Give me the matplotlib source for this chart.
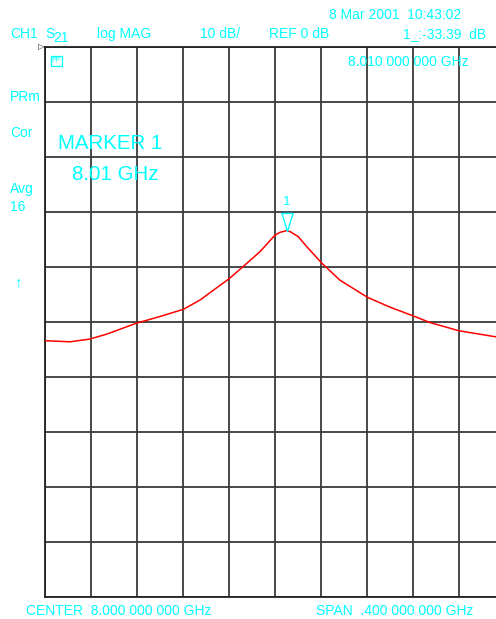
import matplotlib
matplotlib.use("Agg")
import matplotlib.pyplot as plt
import numpy as np
from matplotlib.path import Path

# trace: frequency (GHz) vs S21 (dB)
freq_ghz = [7.800, 7.8217, 7.8391, 7.8537, 7.8797, 7.9000, 7.9203, 7.9348,
            7.9603, 7.9724, 7.9870, 8.0000, 8.0043, 8.0100, 8.0135, 8.0203,
            8.0276, 8.0407, 8.0565, 8.0803, 8.1000, 8.1203, 8.1348, 8.1600,
            8.1922, 8.2000]
s21_db = [-53.4, -53.6, -53.1, -52.2, -50.2, -49.0, -47.7, -46.0,
          -42.1, -39.9, -37.2, -34.2, -33.7, -33.39, -33.6, -34.5,
          -36.3, -39.3, -42.4, -45.5, -47.3, -48.9, -50.1, -51.6,
          -52.7, -52.9]

center_ghz = 8.0
span_ghz = 0.4
ref_db = 0
db_per_div = 10
marker_freq = 8.01
marker_db = -33.39

W, H = 496, 619
CYAN = "#00FFFF"
plt.rcParams["font.family"] = ["Liberation Sans", "DejaVu Sans"]

fig = plt.figure(figsize=(W / 100, H / 100), dpi=100)
fig.patch.set_facecolor("white")

# screen grid runs from x=45 to 505 px (cut off at the right), y=47 to 597 px
ax = fig.add_axes([45 / W, (H - 597) / H, 460 / W, 550 / H])
ax.set_xlim(center_ghz - span_ghz / 2, center_ghz + span_ghz / 2)
ax.set_ylim(ref_db - 10 * db_per_div, ref_db)
ax.set_xticks(np.linspace(center_ghz - span_ghz / 2, center_ghz + span_ghz / 2, 11))
ax.set_yticks(np.arange(ref_db - 10 * db_per_div, ref_db + 1, db_per_div))
ax.tick_params(length=0, labelbottom=False, labelleft=False)
ax.grid(True, color="#3a3a3a", linewidth=1.3)
for s in ax.spines.values():
    s.set_color("#222222")
    s.set_linewidth(1.3)

ax.plot(freq_ghz, s21_db, color="#FF0000", linewidth=1.1, zorder=3)

# marker triangle, tip on the trace
tri = Path([(-0.49, 1.6), (0.49, 1.6), (0, 0), (-0.49, 1.6)],
           [Path.MOVETO, Path.LINETO, Path.LINETO, Path.CLOSEPOLY])
ax.plot([marker_freq], [marker_db], marker=tri, markersize=26,
        markerfacecolor="none", markeredgecolor=CYAN, markeredgewidth=1.0,
        zorder=4, clip_on=False)
ax.annotate("1", (marker_freq, marker_db), xytext=(0, 16),
            textcoords="offset points", ha="center", va="bottom",
            color=CYAN, fontsize=9.5)


def label(x, y, s, size=10, **kw):
    fig.text(x / W, 1 - y / H, s, color=CYAN, fontsize=size,
             va="baseline", ha="left", **kw)


label(329, 19, "8 Mar 2001  10:43:02")
label(10, 38, "CH1")
label(45, 38, "S")
label(53, 42, "21")
label(97, 38, "log MAG")
label(200, 38, "10 dB/")
label(269, 38, "REF 0 dB")
label(403, 38, "1_:-33.39  dB")
label(348, 66, "8.010 000 000 GHz")
label(10, 101, "PRm")
label(10, 137, "Cor")
label(58, 149, "MARKER 1", size=14.8)
label(72, 180, "8.01 GHz", size=14.8)
label(10, 193, "Avg")
label(10, 211, "16")
label(15, 286, "\u2191", size=11)
label(26, 615, "CENTER  8.000 000 000 GHz")
label(316, 615, "SPAN  .400 000 000 GHz")

# reference position arrow at top-left of the grid
fig.text(38 / W, 1 - 47 / H, "\u25b7", color="#222222", fontsize=6,
         va="center", ha="left", family="DejaVu Sans")
# small status icon
fig.patches.append(plt.Rectangle((51 / W, 1 - 66 / H), 11 / W, 10 / H,
                                 transform=fig.transFigure, fill=False,
                                 edgecolor=CYAN, linewidth=0.9))
fig.text(56.5 / W, 1 - 61 / H, "PP", color=CYAN, fontsize=5,
         va="center", ha="center")

fig.savefig("out.png", dpi=100)
